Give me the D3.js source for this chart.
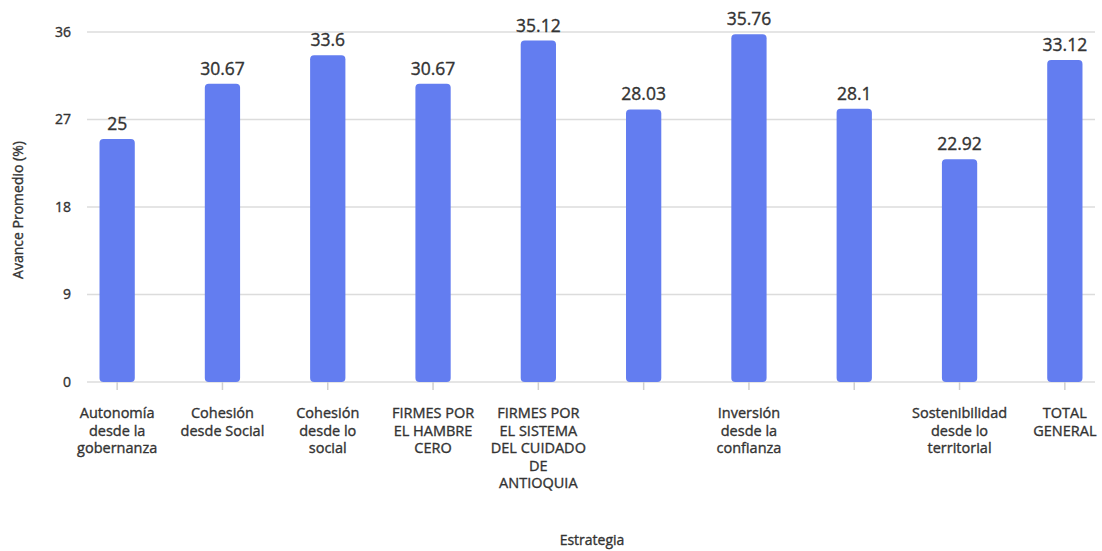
<!DOCTYPE html>
<html>
<head>
<meta charset="utf-8">
<script src="https://cdn.jsdelivr.net/npm/d3@7"></script>
<style>
  body { margin: 0; background: #fff; }
  text { font-family: "Open Sans", "Noto Sans", sans-serif; fill: #333; stroke: #333; stroke-width: 0.35px; }
</style>
</head>
<body>
<svg id="drawing_region"></svg>
<script>
// categories (6th and 8th labels are not shown in the original)
const categories = [
    ["Autonomía", "desde la", "gobernanza"],
    ["Cohesión", "desde Social"],
    ["Cohesión", "desde lo", "social"],
    ["FIRMES POR", "EL HAMBRE", "CERO"],
    ["FIRMES POR", "EL SISTEMA", "DEL CUIDADO", "DE", "ANTIOQUIA"],
    [],
    ["Inversión", "desde la", "confianza"],
    [],
    ["Sostenibilidad", "desde lo", "territorial"],
    ["TOTAL", "GENERAL"]
];
const values = [25, 30.67, 33.6, 30.67, 35.12, 28.03, 35.76, 28.1, 22.92, 33.12];
const yTicks = [0, 9, 18, 27, 36];

const width = 1102, height = 551;

const svg = d3.select('#drawing_region')
    .attr('width', width)
    .attr('height', height);

const x = d3.scaleBand()
    .domain(d3.range(values.length))
    .range([64.5, 1117.5])
    .paddingInner(0.665)
    .paddingOuter(0.3325);

const y = d3.scaleLinear()
    .domain([0, 36])
    .range([382, 32]);

// gridlines
svg.append('g')
    .selectAll('line')
    .data(yTicks)
    .enter()
    .append('line')
    .attr('x1', 87)
    .attr('x2', 1095)
    .attr('y1', d => y(d))
    .attr('y2', d => y(d))
    .attr('stroke', '#dcdcdc')
    .attr('stroke-width', 1.5);

// y tick labels
svg.append('g')
    .selectAll('text')
    .data(yTicks)
    .enter()
    .append('text')
    .attr('x', 71)
    .attr('y', d => y(d))
    .attr('dy', '0.35em')
    .attr('text-anchor', 'end')
    .style('font-size', '14px')
    .text(d => d);

// x ticks
svg.append('g')
    .selectAll('line')
    .data(d3.range(values.length))
    .enter()
    .append('line')
    .attr('x1', d => x(d) + x.bandwidth()/2)
    .attr('x2', d => x(d) + x.bandwidth()/2)
    .attr('y1', 382)
    .attr('y2', 390)
    .attr('stroke', '#d0d0d0')
    .attr('stroke-width', 1.5);

// bars
svg.append('g')
    .selectAll('rect')
    .data(values)
    .enter()
    .append('rect')
    .attr('x', (d, i) => x(i))
    .attr('y', d => y(d))
    .attr('width', x.bandwidth())
    .attr('height', d => y(0) - y(d))
    .attr('rx', 4)
    .attr('fill', '#637df0');

// value labels
svg.append('g')
    .selectAll('text')
    .data(values)
    .enter()
    .append('text')
    .attr('x', (d, i) => x(i) + x.bandwidth()/2)
    .attr('y', d => y(d) - 9)
    .attr('text-anchor', 'middle')
    .style('font-size', '17.5px')
    .text(d => d);

// category labels
const cat = svg.append('g')
    .selectAll('text')
    .data(categories)
    .enter()
    .append('text')
    .attr('x', (d, i) => x(i) + x.bandwidth()/2)
    .attr('y', 413)
    .attr('text-anchor', 'middle')
    .style('font-size', '14.5px');

cat.selectAll('tspan')
    .data(d => d)
    .enter()
    .append('tspan')
    .attr('x', function() { return d3.select(this.parentNode).attr('x'); })
    .attr('dy', (d, i) => i === 0 ? '0.35em' : '17.5px')
    .text(d => d);

// axis titles
svg.append('text')
    .attr('transform', 'translate(18, 210) rotate(-90)')
    .attr('dy', '0.35em')
    .attr('text-anchor', 'middle')
    .style('font-size', '14px')
    .text('Avance Promedio (%)');

svg.append('text')
    .attr('x', 592)
    .attr('y', 540)
    .attr('dy', '0.35em')
    .attr('text-anchor', 'middle')
    .style('font-size', '14px')
    .text('Estrategia');
</script>
</body>
</html>
